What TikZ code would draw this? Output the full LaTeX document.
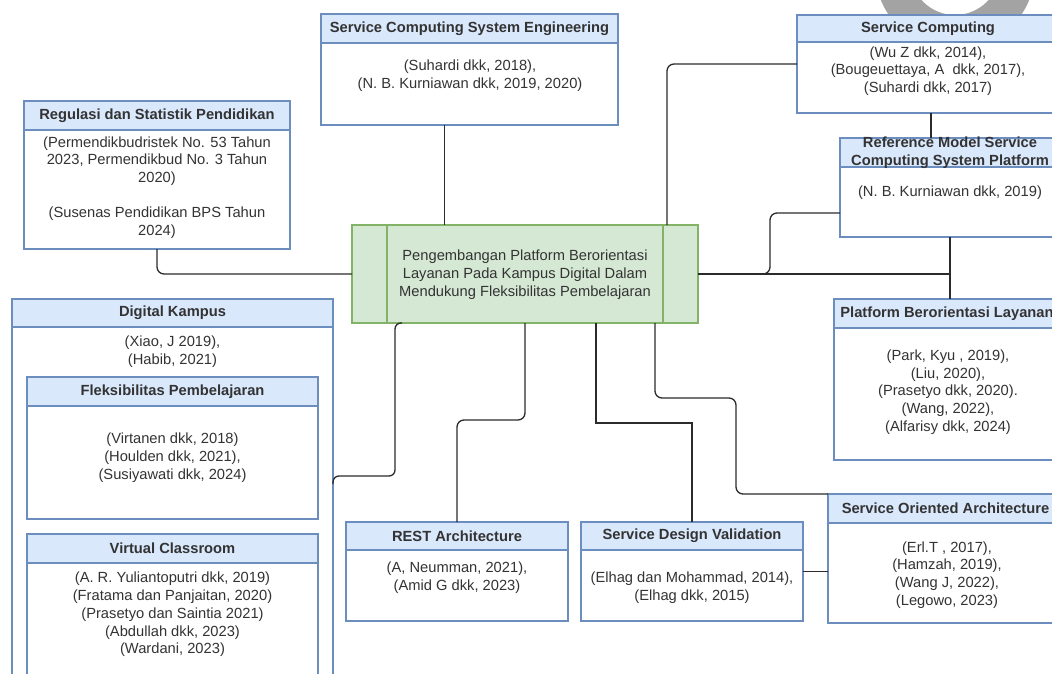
\documentclass[tikz,border=0pt]{standalone}
\usepackage{fontspec}
\setmainfont{Liberation Sans}
\usetikzlibrary{calc}

\definecolor{hdrfill}{HTML}{DAE8FC}
\definecolor{hdrline}{HTML}{6C8EBF}
\definecolor{corefill}{HTML}{D5E8D4}
\definecolor{coreline}{HTML}{82B366}
\definecolor{ink}{HTML}{333333}
\definecolor{wire}{HTML}{2B2B2B}
\definecolor{wm}{HTML}{A3A3A3}

\tikzset{
  txt/.style={font=\fontsize{14.7pt}{17.7pt}\selectfont, text=ink, align=center, inner sep=0pt},
  hdrtext/.style={txt, font=\fontsize{14.7pt}{17.7pt}\selectfont\bfseries},
  panel/.style={draw=hdrline, fill=white, line width=1.2pt, inner sep=0pt, outer sep=0pt, anchor=north west},
  panelhead/.style={panel, fill=hdrfill},
  conn/.style={draw=wire, line width=1.3pt},
  soft/.style={conn, rounded corners=7pt},
}

% literature panel: name, x1, y1, x2, y2, header bottom, title
\newcommand\litbox[7]{%
  \node[panel, minimum width={#4-#2}, minimum height={#5-#3}] (#1) at (#2,#3) {};
  \node[panelhead, minimum width={#4-#2}, minimum height={#6-#3},
        label={[hdrtext]center:#7}] (#1-h) at (#2,#3) {};
}

\begin{document}
\begin{tikzpicture}[x=1pt,y=-1pt]
\useasboundingbox (0,0) rectangle (1052,674);
\clip (0,0) rectangle (1052,674);

% grey ring in the top right corner
\fill[wm, even odd rule] (955,-30) circle[radius=80] (955,-30) circle[radius=45];

% panels
\litbox{reg}{24}{101}{290}{249}{130}{Regulasi dan Statistik Pendidikan}
\litbox{scse}{321}{14}{618}{125}{43}{Service Computing System Engineering}
\litbox{sc}{797}{15}{1059}{113}{42}{Service Computing}
\litbox{ref}{840}{138}{1060}{237}{167}{Reference Model Service\\Computing System Platform}
\litbox{dk}{12}{299}{333}{700}{327}{Digital Kampus}
\litbox{flex}{27}{377}{318}{519}{406}{Fleksibilitas Pembelajaran}
\litbox{vc}{27}{534}{318}{700}{563}{Virtual Classroom}
\litbox{rest}{346}{522}{568}{621}{550}{REST Architecture}
\litbox{sdv}{581}{522}{803}{621}{550}{Service Design Validation}
\litbox{plat}{834}{299}{1060}{460}{328}{Platform Berorientasi Layanan}
\litbox{soa}{828}{494}{1063}{623}{523}{Service Oriented Architecture}

% central topic
\node[draw=coreline, fill=corefill, line width=1.2pt, inner sep=0pt, outer sep=0pt,
      anchor=north west, minimum width=346, minimum height=98] (center) at (352,225) {};
\draw[coreline, line width=1.2pt] ($(center.north west)+(35,0)$) -- ($(center.south west)+(35,0)$);
\draw[coreline, line width=1.2pt] ($(center.north east)+(-35,0)$) -- ($(center.south east)+(-35,0)$);
\node[txt] (center-t) at (525,274.5) {Pengembangan Platform Berorientasi\\Layanan Pada Kampus Digital Dalam\\Mendukung Fleksibilitas Pembelajaran};

% references
\node[txt] (reg-t) at (157,187.5) {(Permendikbudristek No. 53 Tahun\\2023, Permendikbud No. 3 Tahun\\2020)\\\strut\\(Susenas Pendidikan BPS Tahun\\2024)};
\node[txt] (scse-t) at (470,75.5) {(Suhardi dkk, 2018),\\(N. B. Kurniawan dkk, 2019, 2020)};
\node[txt] (sc-t) at (928,71) {(Wu Z dkk, 2014),\\(Bougeuettaya, A~ dkk, 2017),\\(Suhardi dkk, 2017)};
\node[txt] (ref-t) at (950,193) {(N. B. Kurniawan dkk, 2019)};
\node[txt] (dk-t) at (172.5,352) {(Xiao, J 2019),\\(Habib, 2021)};
\node[txt] (flex-t) at (172.5,457.5) {(Virtanen dkk, 2018)\\(Houlden dkk, 2021),\\(Susiyawati dkk, 2024)};
\node[txt] (vc-t) at (172.5,614.5) {(A. R. Yuliantoputri dkk, 2019)\\(Fratama dan Panjaitan, 2020)\\(Prasetyo dan Saintia 2021)\\(Abdullah dkk, 2023)\\(Wardani, 2023)};
\node[txt] (rest-t) at (457,577.5) {(A, Neumman, 2021),\\(Amid G dkk, 2023)};
\node[txt] (sdv-t) at (692,587.5) {(Elhag dan Mohammad, 2014),\\(Elhag dkk, 2015)};
\node[txt] (plat-t) at (948,392) {(Park, Kyu , 2019),\\(Liu, 2020),\\(Prasetyo dkk, 2020).\\(Wang, 2022),\\(Alfarisy dkk, 2024)};
\node[txt] (soa-t) at (947,575) {(Erl.T , 2017),\\(Hamzah, 2019),\\(Wang J, 2022),\\(Legowo, 2023)};

% connectors
\draw[soft] (center.west) -| (reg.south);
\draw[conn] ($(scse.south)+(-25,0)$) coordinate (scse-p) -- (scse-p |- center.north);
\draw[soft] ($(center.north)+(142,0)$) |- (sc.west);
\draw[conn] ($(sc.south)+(3,0)$) coordinate (sc-p) -- (sc-p |- ref.north);
\draw[soft] (center.east) -- ++(72,0) |- ($(ref.west)+(0,25.5)$);
\draw[conn] (center.east) -| (ref.south |- plat.north);
\draw[conn] (ref.south) -- (ref.south |- plat.north);
\draw[conn, rounded corners=6pt] ($(center.south)+(-123,0)$) -| (395,476) -| ($(dk.east)+(0,-15.5)$);
\draw[soft] (center.south) |- ($(rest.north)+(0,-102)$) -- (rest.north);
\draw[conn] ($(center.south)+(71,0)$) |- ($(sdv.north)+(0,-99)$) -- (sdv.north);
\draw[soft] ($(center.south)+(130,0)$) |- (736,398) |- (soa.north west);
\draw[conn] (sdv.east) -- (sdv.east -| soa.west);
\end{tikzpicture}
\end{document}
